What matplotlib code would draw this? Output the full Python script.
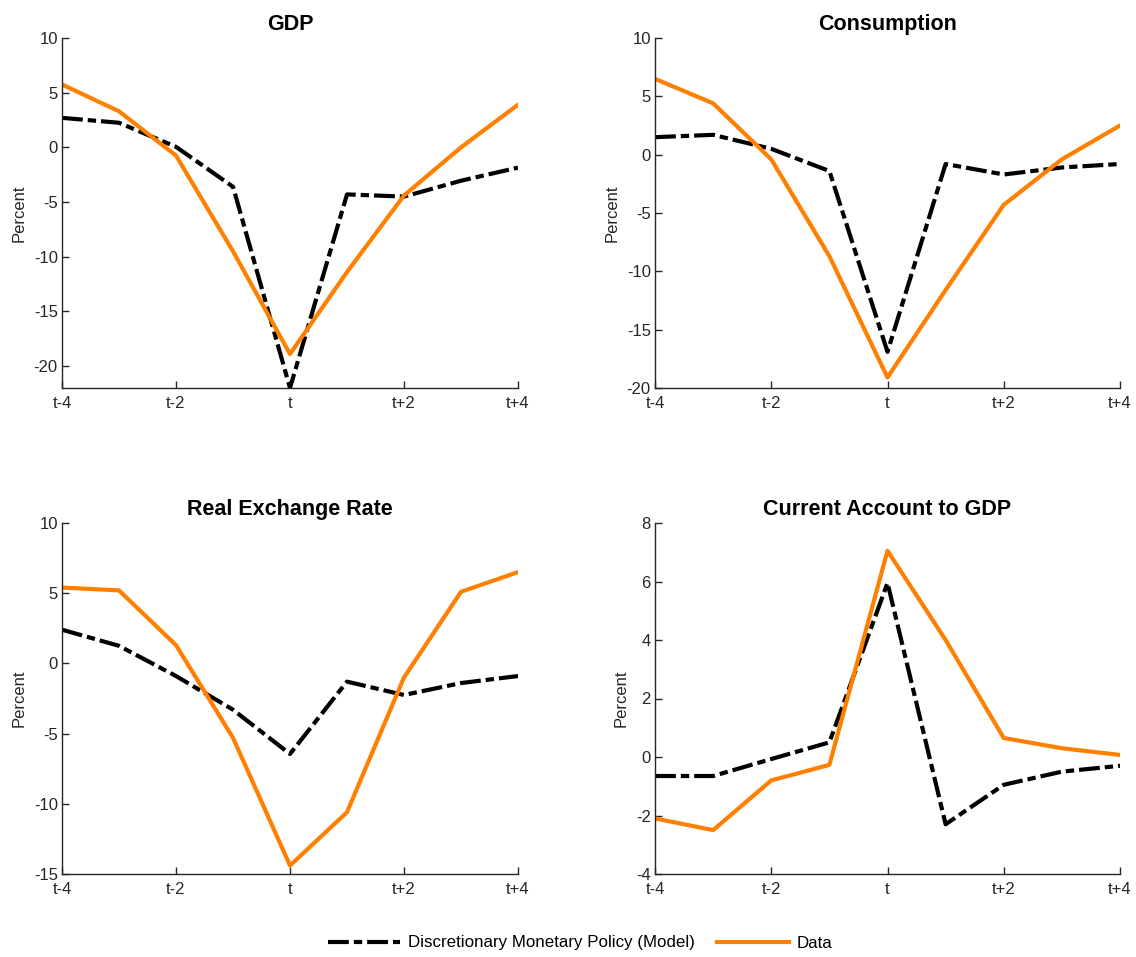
import matplotlib
matplotlib.use("Agg")
import matplotlib.pyplot as plt
from matplotlib.lines import Line2D

plt.rcParams['font.family'] = ['Liberation Sans', 'DejaVu Sans']
plt.rcParams['axes.unicode_minus'] = False

periods = [-4, -3, -2, -1, 0, 1, 2, 3, 4]
tick_pos = [-4, -2, 0, 2, 4]
tick_labels = ['t-4', 't-2', 't', 't+2', 't+4']

titles = ['GDP', 'Consumption', 'Real Exchange Rate', 'Current Account to GDP']

gdp_model = [2.7, 2.25, 0.05, -3.6, -22.0, -4.3, -4.5, -3.05, -1.85]
gdp_data = [5.75, 3.3, -0.75, -9.5, -18.9, -11.4, -4.4, 0.0, 3.9]

cons_model = [1.5, 1.7, 0.5, -1.4, -16.9, -0.8, -1.7, -1.1, -0.8]
cons_data = [6.5, 4.4, -0.4, -8.7, -19.1, -11.6, -4.3, -0.4, 2.5]

rer_model = [2.4, 1.25, -0.9, -3.3, -6.45, -1.3, -2.25, -1.4, -0.9]
rer_data = [5.4, 5.2, 1.3, -5.3, -14.4, -10.6, -1.0, 5.1, 6.5]

ca_model = [-0.65, -0.65, -0.07, 0.5, 5.95, -2.3, -0.95, -0.5, -0.3]
ca_data = [-2.1, -2.5, -0.8, -0.27, 7.05, 4.0, 0.65, 0.3, 0.07]

model_series = [gdp_model, cons_model, rer_model, ca_model]
data_series = [gdp_data, cons_data, rer_data, ca_data]
ylims = [(-22, 10), (-20, 10), (-15, 10), (-4, 8)]
yticks = [[-20, -15, -10, -5, 0, 5, 10],
          [-20, -15, -10, -5, 0, 5, 10],
          [-15, -10, -5, 0, 5, 10],
          [-4, -2, 0, 2, 4, 6, 8]]

W, H = 1136, 957
fig = plt.figure(figsize=(W / 100, H / 100), dpi=100)

# axes boxes in pixels: left, right, top, bottom
boxes = [(62, 518, 38, 388), (655, 1120, 38, 388),
         (62, 518, 523, 874), (655, 1120, 523, 874)]

orange = '#FF8000'
axis_col = '#262626'
dashdot = (0, (5.0, 1.2, 2.0, 1.2))
lw = 3.0

for i, (l, r, t, b) in enumerate(boxes):
    ax = fig.add_axes([l / W, 1 - b / H, (r - l) / W, (b - t) / H])
    ax.plot(periods, model_series[i], color='black', lw=lw, linestyle=dashdot)
    ax.plot(periods, data_series[i], color=orange, lw=lw)
    ax.set_xlim(-4, 4)
    ax.set_ylim(*ylims[i])
    ax.set_xticks(tick_pos)
    ax.set_xticklabels(tick_labels)
    ax.set_yticks(yticks[i])
    ax.spines['top'].set_visible(False)
    ax.spines['right'].set_visible(False)
    for s in ('left', 'bottom'):
        ax.spines[s].set_color(axis_col)
        ax.spines[s].set_linewidth(1.0)
    ax.tick_params(direction='in', length=5, width=1.0, colors=axis_col,
                   labelsize=12, pad=3)
    ax.tick_params(axis='x', pad=6)
    ax.set_ylabel('Percent', fontsize=12, color=axis_col, labelpad=5)
    ax.set_title(titles[i], fontsize=15.5, fontweight='bold', pad=5.5)

handles = [Line2D([], [], color='black', lw=lw, linestyle=dashdot),
           Line2D([], [], color=orange, lw=lw)]
fig.legend(handles, ['Discretionary Monetary Policy (Model)', 'Data'],
           loc='center', bbox_to_anchor=(580 / W, 1 - 943 / H), ncol=2,
           frameon=False, fontsize=12.2, handlelength=4.25, columnspacing=1.3,
           handletextpad=0.47)

fig.savefig('out.png', dpi=100, facecolor='white')
